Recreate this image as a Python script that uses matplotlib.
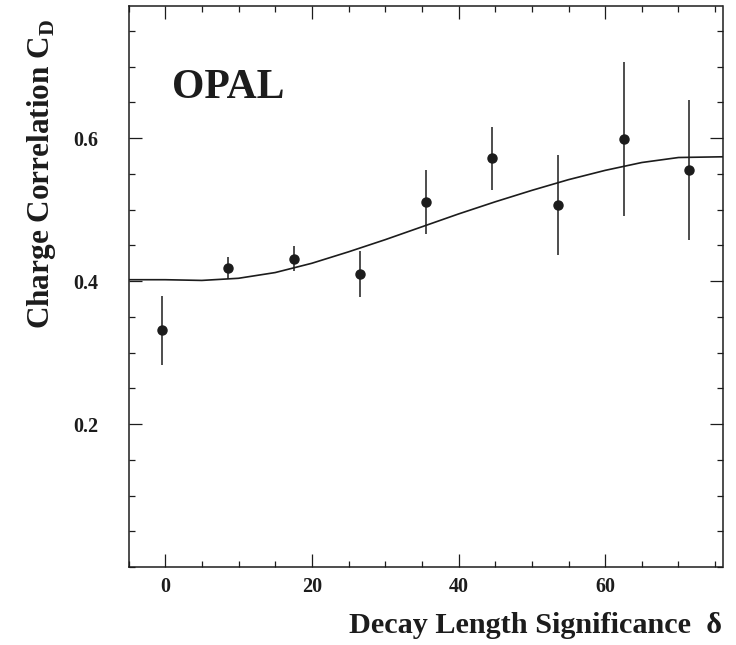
import matplotlib
matplotlib.use("Agg")
import matplotlib.pyplot as plt
from matplotlib.ticker import MultipleLocator, FixedLocator
import numpy as np

plt.rcParams['font.family'] = ['Liberation Serif', 'DejaVu Serif']
plt.rcParams['font.weight'] = 'bold'

ink = '#1c1c1c'

# measured points (bin centres, bins of width 9 starting at -5)
delta = [-0.5, 8.5, 17.5, 26.5, 35.5, 44.5, 53.5, 62.5, 71.5]
cd = [0.331, 0.418, 0.431, 0.410, 0.511, 0.572, 0.507, 0.599, 0.556]
cd_err = [0.048, 0.0155, 0.0175, 0.0315, 0.045, 0.044, 0.070, 0.1075, 0.098]

# fitted curve
fit_x = [-5, 0, 5, 10, 15, 20, 25, 30, 35, 40, 45, 50, 55, 60, 65, 70, 76]
fit_y = [0.402, 0.402, 0.401, 0.404, 0.412, 0.425, 0.441, 0.458, 0.476,
         0.494, 0.511, 0.527, 0.542, 0.555, 0.566, 0.573, 0.574]

x_major = [0, 20, 40, 60]
y_major = [0.2, 0.4, 0.6]

fig = plt.figure(figsize=(7.36, 6.45), dpi=100)
ax = fig.add_axes([128.5/736, 1-567/645, (722.5-128.5)/736, (567-6)/645])

ax.plot(fit_x, fit_y, color=ink, lw=1.2)
ax.errorbar(delta, cd, yerr=cd_err, fmt='o', color=ink, ms=6.5,
            elinewidth=1.1, capsize=0)

ax.set_xlim(-5, 76)
ax.set_ylim(0, 0.785)

ax.xaxis.set_major_locator(FixedLocator(x_major))
ax.xaxis.set_minor_locator(MultipleLocator(5))
ax.yaxis.set_major_locator(FixedLocator(y_major))
ax.yaxis.set_minor_locator(MultipleLocator(0.05))
ax.set_xticklabels([str(v) for v in x_major])
ax.set_yticklabels([f'{v:.1f}' for v in y_major])

ax.tick_params(which='both', direction='in', top=True, right=True,
               color=ink, width=0.9, labelsize=14.5, labelcolor=ink)
ax.tick_params(which='major', length=9.4)
ax.tick_params(which='minor', length=4.3)
ax.tick_params(axis='y', which='major', pad=22)
ax.tick_params(axis='x', which='major', pad=7)

for s in ax.spines.values():
    s.set_linewidth(1.1)
    s.set_color(ink)

ax.text(0.073, 0.836, 'OPAL', transform=ax.transAxes, fontsize=30,
        fontweight='bold', color=ink, ha='left', va='baseline')

fig.text(42/736, 1-174/645, r'Charge Correlation C$_{\mathregular{D}}$',
         rotation=90, ha='center', va='center', fontsize=22.5, color=ink)
fig.text(722/736, 1-633/645, 'Decay Length Significance  δ',
         ha='right', va='baseline', fontsize=21.8, color=ink)

fig.savefig('out.png', dpi=100)
